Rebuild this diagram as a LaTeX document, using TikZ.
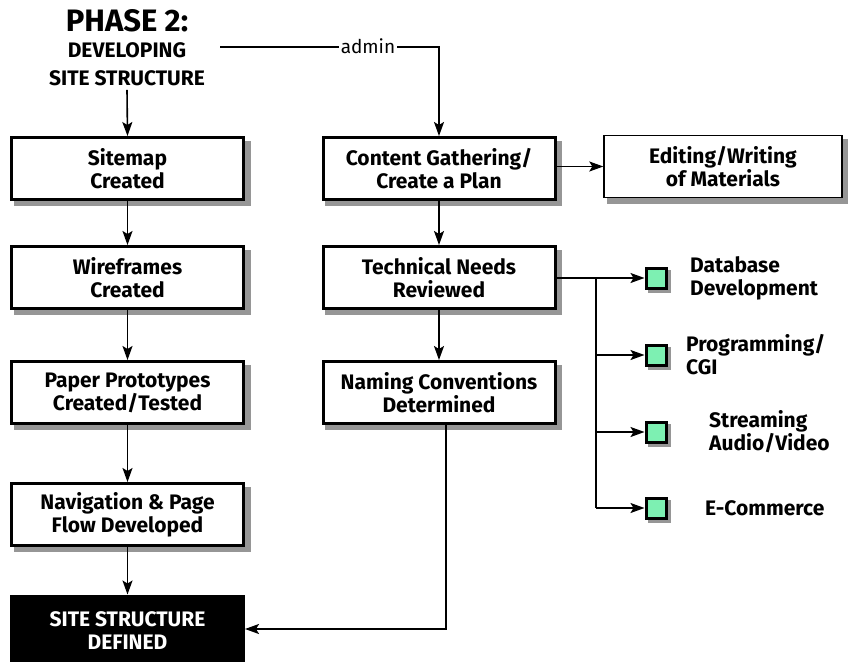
\documentclass[tikz,border=0pt]{standalone}
\usepackage{fontspec}
\setmainfont{Fira Sans}
\usetikzlibrary{arrows.meta,calc}
\definecolor{mint}{RGB}{125,240,178}
\definecolor{shadowgray}{RGB}{150,150,150}
\begin{document}
\begin{tikzpicture}[x=1pt,y=-1pt,
  box/.style={draw,line width=3pt,fill=white,minimum width=232pt,minimum height=62pt,
    align=center,font=\bfseries\fontsize{21}{23}\selectfont,inner sep=0pt},
  thinbox/.style={box,line width=1.4pt},
  darkbox/.style={box,fill=black,text=white},
  sq/.style={draw,line width=3pt,fill=mint,minimum size=20pt,inner sep=0pt},
  lbl/.style={anchor=west,align=left,inner sep=0pt,font=\bfseries\fontsize{21}{23}\selectfont},
  conn/.style={line width=1.6pt,-{Stealth[length=14pt,width=10pt,inset=3pt]}},
  plain/.style={line width=1.5pt},
  shadowfill/.style={fill=shadowgray,draw=none},
  title/.style={inner sep=0pt,font=\bfseries}
]
\useasboundingbox (0,0) rectangle (848,661);

% shadows (drawn first, behind the boxes)
\fill[shadowfill] (14,141) rectangle (251,206);
\fill[shadowfill] (14,250) rectangle (251,315);
\fill[shadowfill] (14,365) rectangle (251,430);
\fill[shadowfill] (14,487) rectangle (251,552);
\fill[shadowfill] (325,141) rectangle (562,206);
\fill[shadowfill] (325,250) rectangle (562,315);
\fill[shadowfill] (325,365) rectangle (562,430);
\fill[shadowfill] (607,139) rectangle (848,204);
\fill[shadowfill] (648,270) rectangle (671,293);
\fill[shadowfill] (648,347) rectangle (671,370);
\fill[shadowfill] (648,424) rectangle (671,447);
\fill[shadowfill] (648,500) rectangle (671,523);

% title
\node[title,font=\bfseries\fontsize{31}{34}\selectfont] (ph) at (127,21) {PHASE 2:};
\node[title,font=\bfseries\fontsize{21}{24}\selectfont] (dev) at (127,50) {DEVELOPING};
\node[title,font=\bfseries\fontsize{21}{24}\selectfont] (sst) at (127,78) {SITE STRUCTURE};

% left column
\node[box] (sitemap) at (127.5,168.5) {Sitemap\\Created};
\node[box] (wire) at (127.5,277.5) {Wireframes\\Created};
\node[box] (paper) at (127.5,392.5) {Paper Prototypes\\Created/Tested};
\node[box] (nav) at (127.5,514.5) {Navigation \& Page\\Flow Developed};
\node[darkbox,minimum height=70pt] (ssd) at (127.5,631) {SITE STRUCTURE\\DEFINED};

% middle column
\node[box] (content) at (439,168.5) {Content Gathering/\\Create a Plan};
\node[box] (tech) at (439,277.5) {Technical Needs\\Reviewed};
\node[box] (naming) at (439,392.5) {Naming Conventions\\Determined};

% right
\node[thinbox,minimum width=238pt] (edit) at (723,166.5) {Editing/Writing\\of Materials};

\node[sq] (g1) at (656,278) {};
\node[sq] (g2) at (656,355) {};
\node[sq] (g3) at (656,432) {};
\node[sq] (g4) at (656,508) {};

\node[lbl] (l1) at (690,278) {Database\\Development};
\node[lbl] (l2) at (686,355) {Programming/\\CGI};
\node[lbl] (l3) at (709,432) {Streaming\\Audio/Video};
\node[lbl] (l4) at (705,508) {E-Commerce};

% admin connector
\coordinate (a0) at (220,47);
\node[inner sep=2pt,font=\fontsize{19}{22}\selectfont\addfontfeatures{Weight=Light}] (adm) at (368,46) {admin};
\coordinate (a1) at (439,47);
\draw[plain] (a0) -- (adm.west |- a0);
\draw[conn] (adm.east |- a1) -- (a1) -- (content.north);

% left arrows
\draw[conn] ([yshift=-4pt]sst.south) -- (sitemap.north);
\draw[conn] (sitemap.south) -- (wire.north);
\draw[conn] (wire.south) -- (paper.north);
\draw[conn] (paper.south) -- (nav.north);
\draw[conn] (nav.south) -- (ssd.north);

% middle arrows
\draw[conn] (content.south) -- (tech.north);
\draw[conn] (tech.south) -- (naming.north);
\draw[conn] (content.east |- edit.west) -- (edit.west);
\draw[conn] ([xshift=7pt]naming.south) |- ([yshift=2pt]ssd.east);

% branches
\coordinate (br) at (596,278);
\coordinate (brend) at (596,508);
\draw[conn] (tech.east |- g1) -- (g1.west);
\draw[plain] (br) -- (brend);
\draw[conn] (br |- g2) -- (g2.west);
\draw[conn] (br |- g3) -- (g3.west);
\draw[conn] (brend) -- (g4.west);
\end{tikzpicture}
\end{document}
